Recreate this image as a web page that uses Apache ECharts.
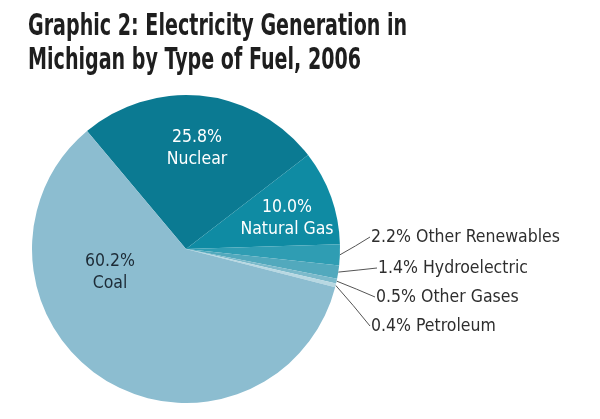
<!DOCTYPE html>
<html>
<head>
<meta charset="utf-8">
<script src="https://cdn.jsdelivr.net/npm/echarts@6/dist/echarts.min.js"></script>
<style>
html,body{margin:0;padding:0;background:#fff;}
#chart{width:600px;height:419px;}
</style>
</head>
<body>
<div id="chart"></div>
<script>
const titleLines = ['Graphic 2: Electricity Generation in', 'Michigan by Type of Fuel, 2006'];
const categories = ['Nuclear', 'Natural Gas', 'Other Renewables', 'Hydroelectric', 'Other Gases', 'Petroleum', 'Coal'];
const values = [25.8, 10.0, 2.2, 1.4, 0.5, 0.4, 60.2];
const colors = ['#0b7a92', '#0f8ba3', '#2f9db3', '#52a9bd', '#7cbacb', '#b8d8e2', '#8cbdd0'];
const FONT = "'Liberation Sans Narrow', 'DejaVu Sans Condensed', 'Arial Narrow', sans-serif";

// label layout positions (not data)
const insideLabelPos = { 0: [197, 148], 1: [287, 218], 6: [110, 272] };
const outsideLabelPos = { 2: [371, 237], 3: [378, 268], 4: [376, 297], 5: [371, 326] };

const chart = echarts.init(document.getElementById('chart'));
const data = categories.map((c, i) => {
  const big = (i === 0 || i === 1 || i === 6);
  return {
    name: c,
    value: values[i],
    itemStyle: { color: colors[i] },
    label: big ? {
      position: 'inside',
      formatter: v => v.value.toFixed(1) + '%\n' + v.name,
      color: i === 6 ? '#1d2b36' : '#ffffff',
      fontSize: 17.5,
      lineHeight: 22,
      fontFamily: FONT
    } : {
      position: 'outside',
      formatter: v => v.value.toFixed(1) + '% ' + v.name,
      color: '#2e2e2e',
      fontSize: 17.5,
      fontFamily: FONT
    },
    labelLine: big ? { show: false } : { show: true, length: 10, length2: 10, lineStyle: { color: '#555', width: 1 } }
  };
});

chart.setOption({
  backgroundColor: '#ffffff',
  graphic: [{
    type: 'text',
    left: 28,
    top: 10,
    scaleX: 0.685,
    originX: 0,
    style: {
      text: titleLines.join('\n'),
      font: "bold 31px 'DejaVu Sans Condensed', sans-serif",
      lineHeight: 34,
      fill: '#1e1e1e'
    }
  }],
  series: [{
    type: 'pie',
    center: [186, 249],
    radius: [0, 154],
    startAngle: 130,
    clockwise: true,
    animation: false,
    avoidLabelOverlap: false,
    data: data,
    itemStyle: { borderWidth: 0 },
    emphasis: { disabled: true },
    labelLayout: function (params) {
      const i = params.dataIndex;
      if (insideLabelPos[i]) {
        const p = insideLabelPos[i];
        return { x: p[0], y: p[1], align: 'center', verticalAlign: 'middle' };
      }
      const p = outsideLabelPos[i];
      const start = params.labelLinePoints ? params.labelLinePoints[0] : [p[0], p[1]];
      return {
        x: p[0], y: p[1], align: 'left', verticalAlign: 'middle',
        labelLinePoints: [start, [(start[0] + p[0]) / 2, (start[1] + p[1]) / 2], [p[0] - 1, p[1]]]
      };
    }
  }]
});
</script>
</body>
</html>
